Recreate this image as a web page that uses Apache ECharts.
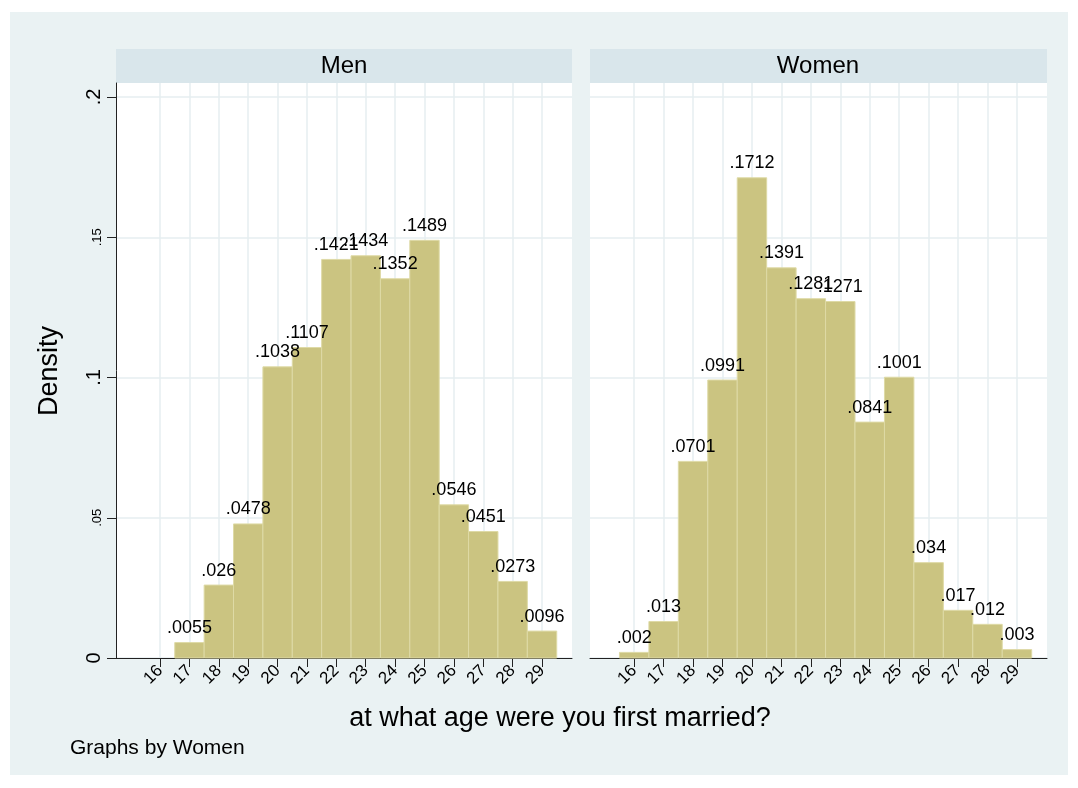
<!DOCTYPE html>
<html>
<head>
<meta charset="utf-8">
<script src="https://cdn.jsdelivr.net/npm/echarts@6/dist/echarts.min.js"></script>
<style>
  html, body { margin: 0; padding: 0; background: #fff; }
  #main { width: 1078px; height: 788px; }
</style>
</head>
<body>
<div id="main"></div>
<script>
// data (density by age at first marriage)
var ages = [16, 17, 18, 19, 20, 21, 22, 23, 24, 25, 26, 27, 28, 29];
var menDensity = [null, .0055, .026, .0478, .1038, .1107, .1421, .1434, .1352, .1489, .0546, .0451, .0273, .0096];
var womenDensity = [.002, .013, .0701, .0991, .1712, .1391, .1281, .1271, .0841, .1001, .034, .017, .012, .003];
var yTicks = [0, .05, .1, .15, .2];
var panelTitles = ['Men', 'Women'];

var FONT = '"Liberation Sans", Arial, Helvetica, sans-serif';
var barColor = '#cbc481';
var barEdge = '#dedaa6';
var gridColor = '#e6eef1';

// stata style: drop the leading zero
function fmt(v) {
    return String(+v.toFixed(4)).replace(/^0\./, '.');
}

function toPairs(vals) {
    var out = [];
    for (var i = 0; i < ages.length; i++) {
        if (vals[i] != null) out.push([ages[i], vals[i]]);
    }
    return out;
}

function renderBar(params, api) {
    var age = api.value(0), d = api.value(1);
    var tl = api.coord([age - 0.5, d]);
    var br = api.coord([age + 0.5, 0]);
    return {
        type: 'rect',
        shape: { x: tl[0], y: tl[1], width: br[0] - tl[0], height: br[1] - tl[1] },
        style: { fill: barColor, stroke: barEdge, lineWidth: 1 },
        textContent: {
            style: { text: fmt(d), fontFamily: FONT, fontSize: 18, fill: '#000' }
        },
        textConfig: { position: 'top', distance: 5 }
    };
}

function xAxisFor(idx) {
    return {
        type: 'value',
        gridIndex: idx,
        min: 14.5,
        max: 30.02,
        axisLine: { show: true, onZero: false, lineStyle: { color: '#222', width: 1 } },
        axisTick: { show: true, customValues: ages, length: 9, lineStyle: { color: '#222' } },
        axisLabel: {
            customValues: ages, rotate: 45, margin: 10,
            fontFamily: FONT, fontSize: 17, color: '#000'
        },
        splitLine: { show: true, lineStyle: { color: gridColor, width: 1.5 } }
    };
}

function yLabel(v) {
    var s = v === 0 ? '0' : fmt(v);
    var big = Math.round(v * 100) % 10 === 0;
    return big ? '{big|' + s + '}' : '{small|' + s + '}';
}

var chart = echarts.init(document.getElementById('main'));

chart.setOption({
    backgroundColor: '#fff',
    animation: false,
    graphic: [
        { type: 'rect', z: -10, silent: true, shape: { x: 10, y: 12, width: 1058, height: 763 }, style: { fill: '#eaf2f3' } },
        { type: 'rect', z: -5, silent: true, shape: { x: 116, y: 49, width: 456, height: 34 }, style: { fill: '#d9e6eb' } },
        { type: 'rect', z: -5, silent: true, shape: { x: 590, y: 49, width: 457, height: 34 }, style: { fill: '#d9e6eb' } },
        { type: 'text', x: 344, y: 66, style: { text: panelTitles[0], fontFamily: FONT, fontSize: 24, fill: '#000', align: 'center', verticalAlign: 'middle' } },
        { type: 'text', x: 818, y: 66, style: { text: panelTitles[1], fontFamily: FONT, fontSize: 24, fill: '#000', align: 'center', verticalAlign: 'middle' } },
        { type: 'text', x: 50, y: 371, rotation: Math.PI / 2, style: { text: 'Density', fontFamily: FONT, fontSize: 27, fill: '#000', align: 'center', verticalAlign: 'middle' } },
        { type: 'text', x: 560, y: 719, style: { text: 'at what age were you first married?', fontFamily: FONT, fontSize: 27, fill: '#000', align: 'center', verticalAlign: 'middle' } },
        { type: 'text', x: 70, y: 748, style: { text: 'Graphs by Women', fontFamily: FONT, fontSize: 21, fill: '#000', align: 'left', verticalAlign: 'middle' } }
    ],
    grid: [
        { left: 116, top: 83, width: 456, height: 575, show: true, backgroundColor: '#fff', borderWidth: 0 },
        { left: 590, top: 83, width: 457, height: 575, show: true, backgroundColor: '#fff', borderWidth: 0 }
    ],
    xAxis: [xAxisFor(0), xAxisFor(1)],
    yAxis: [
        {
            type: 'value', gridIndex: 0, min: 0, max: 0.205,
            axisLine: { show: true, lineStyle: { color: '#222', width: 1 } },
            axisTick: { show: true, customValues: yTicks, length: 9, lineStyle: { color: '#222' } },
            axisLabel: {
                customValues: yTicks, rotate: 90, margin: 12, formatter: yLabel, color: '#000',
                rich: {
                    big: { fontFamily: FONT, fontSize: 20, color: '#000' },
                    small: { fontFamily: FONT, fontSize: 13, color: '#000' }
                }
            },
            splitLine: { show: true, lineStyle: { color: gridColor, width: 1.5 } }
        },
        {
            type: 'value', gridIndex: 1, min: 0, max: 0.205,
            axisLine: { show: false },
            axisTick: { show: false, customValues: yTicks },
            axisLabel: { show: false, customValues: yTicks },
            splitLine: { show: true, lineStyle: { color: gridColor, width: 1.5 } }
        }
    ],
    series: [
        {
            name: panelTitles[0], type: 'custom', xAxisIndex: 0, yAxisIndex: 0,
            renderItem: renderBar, encode: { x: 0, y: 1 }, clip: false,
            data: toPairs(menDensity)
        },
        {
            name: panelTitles[1], type: 'custom', xAxisIndex: 1, yAxisIndex: 1,
            renderItem: renderBar, encode: { x: 0, y: 1 }, clip: false,
            data: toPairs(womenDensity)
        }
    ]
});
</script>
</body>
</html>
